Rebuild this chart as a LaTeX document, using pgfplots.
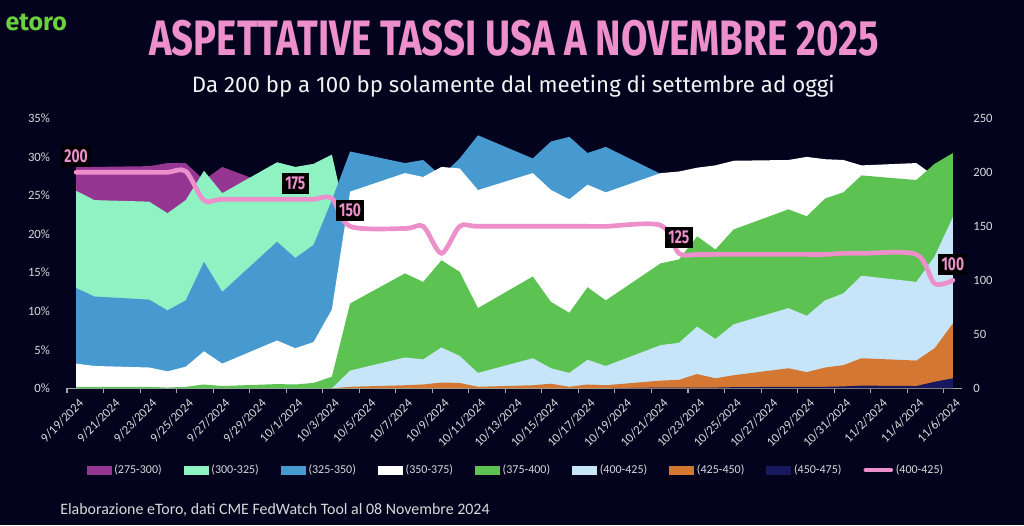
\documentclass[border=0pt]{standalone}
\usepackage{pgfplots}
\pgfplotsset{compat=1.18}
\usepackage{pgfplotstable}
\usepackage{graphicx}
\usepackage{fontspec}
\setmainfont{Carlito}
\newfontfamily\titlefont{Fira Sans}

\definecolor{bg}{HTML}{03031E}
\definecolor{cpurple}{HTML}{953792}
\definecolor{cmint}{HTML}{8FF2C3}
\definecolor{cblue}{HTML}{479AD0}
\definecolor{cgreen}{HTML}{5CC352}
\definecolor{clblue}{HTML}{C7E5F8}
\definecolor{corange}{HTML}{D47733}
\definecolor{cnavy}{HTML}{17185E}
\definecolor{cpink}{HTML}{EC8FCB}
\definecolor{ctext}{HTML}{D9D9D9}
\definecolor{caxis}{HTML}{A6A6A6}
\definecolor{cetoro}{HTML}{6CD03F}

\pgfplotsset{pinklegend/.style={legend image code/.code={\draw[##1] (0pt,0pt) -- (18.75pt,0pt);}}}

% d = days from 9/19/2024 (weekdays only, weekends interpolated)
\pgfplotstableread{
d  purple mint blue white green lblue orange navy pink
0  28.7 25.6 13.0 3.2  0.2  0    0    0    200
1  28.7 24.4 11.9 2.9  0.2  0    0    0    200
4  28.8 24.2 11.5 2.7  0.2  0    0    0    200
5  29.2 22.7 10.1 2.2  0.1  0    0    0    200
6  29.2 24.4 11.4 2.8  0.2  0    0    0    201
7  27.0 28.2 16.4 4.8  0.5  0    0    0    174
8  28.7 25.3 12.5 3.2  0.3  0    0    0    175
11 26.0 29.3 19.0 6.2  0.55 0    0    0    175
12 25.0 28.7 16.9 5.2  0.5  0    0    0    175
13 24.0 29.1 18.6 6.0  0.7  0    0    0    175
14 22.0 30.3 24.4 10.2 1.5  0    0    0    176
15 2.0  19.9 30.7 25.5 11.0 2.3  0.2  0    150
18 0    8.0  29.2 27.9 14.9 4.0  0.4  0    148
19 0    5.0  29.6 27.4 13.8 3.75 0.5  0    150
20 0    4.0  27.5 28.7 16.6 5.3  0.75 0    125
21 0    3.0  29.8 28.5 15.1 4.2  0.7  0    150
22 0    2.0  32.8 25.7 10.4 2.0  0.2  0    150
25 0    1.0  29.8 27.9 14.5 3.9  0.4  0    150
26 0    1.0  32.0 25.7 11.2 2.6  0.6  0    150
27 0    1.0  32.6 24.5 9.8  2.0  0.2  0    150
28 0    1.0  30.5 26.4 13.1 3.7  0.5  0    150
29 0    1.0  31.3 25.4 11.4 2.9  0.4  0    150
32 0    0.5  27.8 27.9 16.2 5.6  1.0  0.1  151
33 0    0.5  25.0 28.1 16.7 5.9  1.1  0.1  125
34 0    0.5  22.0 28.6 19.7 8.0  1.85 0.1  124
35 0    0    20.0 28.9 18.0 6.4  1.3  0.1  124
36 0    0    18.0 29.5 20.6 8.3  1.7  0.15 124
39 0    0    15.0 29.6 23.2 10.4 2.6  0.2  124
40 0    0    14.0 30.0 22.3 9.4  2.1  0.2  124
41 0    0    13.0 29.7 24.6 11.4 2.7  0.2  124
42 0    0    12.0 29.6 25.4 12.3 3.0  0.25 125
43 0    0    10.0 28.9 27.6 14.6 3.9  0.35 125
46 0    0    8.0  29.2 27.0 13.8 3.6  0.3  124
47 0    0    6.0  27.5 29.1 17.1 5.2  0.85 97
48 0    0    5.0  27.0 30.5 22.2 8.4  1.3  100
}\ratedata

\pgfplotstableread{
d  bp  lab
0  200 200
12 175 175
15 150 150
33 125 125
48 100 100
}\labeldata

\begin{document}
\begin{tikzpicture}
\fill[bg] (0,0) rectangle (768pt,393.75pt);

% logo, title, subtitle
\node[anchor=west, text=cetoro, inner sep=0pt] at (4pt,377pt) {\resizebox{46pt}{!}{\titlefont\bfseries etoro}};
\node[text=cpink, inner sep=0pt] at (385.5pt,365pt) {\resizebox{547pt}{26.5pt}{\titlefont\bfseries ASPETTATIVE TASSI USA A NOVEMBRE 2025}};
\node[text=white!95!black, inner sep=0pt] at (385pt,329pt) {\resizebox{482pt}{!}{\titlefont Da 200 bp a 100 bp solamente dal meeting di settembre ad oggi}};

\begin{axis}[
    at={(50.25pt,102.5pt)}, anchor=south west,
    scale only axis, width=671.25pt, height=202.5pt,
    xmin=-0.5, xmax=48.5, ymin=0, ymax=35,
    axis x line*=bottom, axis y line*=left,
    x axis line style={draw=caxis, line width=0.8pt, -},
    y axis line style={draw=none},
    xtick={0,2,...,48},
    xticklabels={9/19/2024,9/21/2024,9/23/2024,9/25/2024,9/27/2024,9/29/2024,10/1/2024,10/3/2024,10/5/2024,10/7/2024,10/9/2024,10/11/2024,10/13/2024,10/15/2024,10/17/2024,10/19/2024,10/21/2024,10/23/2024,10/25/2024,10/27/2024,10/29/2024,10/31/2024,11/2/2024,11/4/2024,11/6/2024},
    minor xtick={-0.5,1.5,...,47.5},
    major x tick style={draw=none},
    minor x tick style={draw=caxis, line width=0.8pt},
    minor tick length=3.5pt, tick align=outside,
    ytick={0,5,...,35},
    yticklabels={0\%,5\%,10\%,15\%,20\%,25\%,30\%,35\%},
    ytick style={draw=none},
    tick label style={text=ctext, font=\fontsize{9.5}{10}\selectfont},
    xticklabel style={rotate=45, anchor=north east, yshift=-2pt, inner sep=1pt},
    yticklabel style={xshift=-5pt},
    legend image code/.code={\fill[#1] (0pt,-3.4pt) rectangle (18.75pt,3.4pt);},
    legend style={at={(0.502,-0.3026)}, anchor=center, draw=none, fill=none,
        text=ctext, font=\fontsize{9}{10}\selectfont,
        /tikz/every even column/.append style={column sep=14.5pt}},
    legend columns=9,
]
\addplot[fill=cpurple, draw=none] table[x=d, y=purple] {\ratedata} \closedcycle;
\addlegendentry{(275-300)}
\addplot[fill=cmint, draw=none] table[x=d, y=mint] {\ratedata} \closedcycle;
\addlegendentry{(300-325)}
\addplot[fill=cblue, draw=none] table[x=d, y=blue] {\ratedata} \closedcycle;
\addlegendentry{(325-350)}
\addplot[fill=white, draw=none] table[x=d, y=white] {\ratedata} \closedcycle;
\addlegendentry{(350-375)}
\addplot[fill=cgreen, draw=none] table[x=d, y=green] {\ratedata} \closedcycle;
\addlegendentry{(375-400)}
\addplot[fill=clblue, draw=none] table[x=d, y=lblue] {\ratedata} \closedcycle;
\addlegendentry{(400-425)}
\addplot[fill=corange, draw=none] table[x=d, y=orange] {\ratedata} \closedcycle;
\addlegendentry{(425-450)}
\addplot[fill=cnavy, draw=none] table[x=d, y=navy] {\ratedata} \closedcycle;
\addlegendentry{(450-475)}
\addlegendimage{cpink, line width=3.5pt, line cap=round, pinklegend}
\addlegendentry{(400-425)}
\end{axis}

\begin{axis}[
    at={(50.25pt,102.5pt)}, anchor=south west,
    scale only axis, width=671.25pt, height=202.5pt,
    xmin=-0.5, xmax=48.5, ymin=0, ymax=250,
    hide x axis, axis y line*=right,
    y axis line style={draw=none},
    ytick={0,50,...,250},
    yticklabels={0,50,100,150,200,250},
    ytick style={draw=none},
    tick label style={text=ctext, font=\fontsize{9.5}{10}\selectfont},
    yticklabel style={xshift=5pt},
    clip=false,
]
\addplot[cpink, line width=3.5pt, smooth, line cap=round] table[x=d, y=pink] {\ratedata};
\addplot[draw=none, mark=none, nodes near coords={\scalebox{0.74}[1]{\titlefont\bfseries\pgfplotspointmeta}},
    point meta=explicit symbolic,
    every node near coord/.append style={fill=black, text=cpink, inner xsep=2.5pt, inner ysep=3pt,
        font=\fontsize{14}{14}\selectfont, yshift=4pt}]
    table[x=d, y=bp, meta=lab] {\labeldata};
\end{axis}

% source note
\node[anchor=west, text=ctext, inner sep=0pt] at (45pt,11pt) {\resizebox{322pt}{!}{\fontsize{10.5}{12}\selectfont Elaborazione eToro, dati CME FedWatch Tool al 08 Novembre 2024}};

\pgfresetboundingbox
\useasboundingbox (0,0) rectangle (768pt,393.75pt);
\end{tikzpicture}
\end{document}
